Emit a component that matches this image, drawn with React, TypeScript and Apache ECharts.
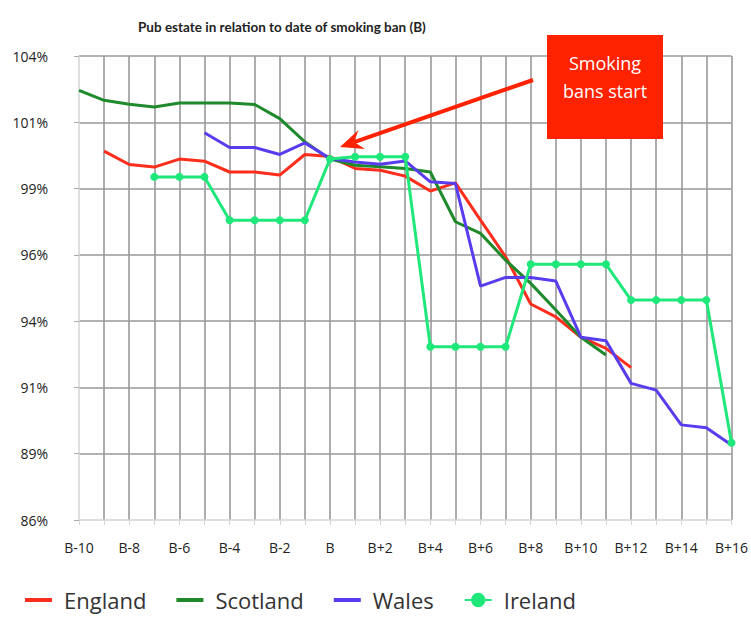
import React, { useEffect, useRef } from "react";
import * as echarts from "echarts";

const categories = [
  "B-10", "B-9", "B-8", "B-7", "B-6", "B-5", "B-4", "B-3", "B-2", "B-1", "B",
  "B+1", "B+2", "B+3", "B+4", "B+5", "B+6", "B+7", "B+8", "B+9", "B+10",
  "B+11", "B+12", "B+13", "B+14", "B+15", "B+16",
];

const england = [
  null, 100.31, 99.79, 99.69, 100.0, 99.92, 99.5, 99.5, 99.38, 100.18, 100.1,
  99.64, 99.57, 99.34, 98.76, 99.08, 97.63, 96.21, 94.38, 93.88, 93.09,
  92.66, 91.91, null, null, null, null,
];

const scotland = [
  102.67, 102.28, 102.13, 102.02, 102.18, 102.18, 102.18, 102.12, 101.57, 100.67, 100.0,
  99.76, 99.7, 99.64, 99.5, 97.57, 97.12, 96.08, 95.18, 94.15, 93.09,
  92.4, null, null, null, null, null,
];

const wales = [
  null, null, null, null, null, 101.02, 100.45, 100.45, 100.18, 100.63, 100.02,
  99.89, 99.8, 99.93, 99.12, 99.05, 95.07, 95.41, 95.41, 95.27, 93.09,
  92.95, 91.3, 91.04, 89.69, 89.58, 88.91,
];

const ireland = [
  null, null, null, 99.31, 99.31, 99.31, 97.63, 97.63, 97.63, 97.63, 100.0,
  100.09, 100.09, 100.09, 92.72, 92.72, 92.72, 92.72, 95.92, 95.92, 95.92,
  95.92, 94.53, 94.53, 94.53, 94.53, 89.0,
];

const AXIS_MIN = 86;
const AXIS_MAX = 104;
const AXIS_STEPS = 7;

const FONT = "Open Sans";
const LINE_ICON = "path://M0,0H27V4H0Z";

function shift(values: (number | null)[]) {
  return values.map((v) => (v == null ? null : +(v - AXIS_MIN).toFixed(4)));
}

export default function App() {
  const ref = useRef<HTMLDivElement>(null);

  useEffect(() => {
    if (!ref.current) return;
    const chart = echarts.init(ref.current, null, { renderer: "svg" });

    // arrow geometry (annotation)
    const tail = [533, 80];
    const tip = [340, 147];
    const dx = tip[0] - tail[0];
    const dy = tip[1] - tail[1];
    const len = Math.sqrt(dx * dx + dy * dy);
    const ux = dx / len;
    const uy = dy / len;
    const nx = -uy;
    const ny = ux;
    const headLen = 23;
    const headHalf = 10;
    const notchLen = 15;
    const base = [tip[0] - headLen * ux, tip[1] - headLen * uy];
    const wing1 = [base[0] + headHalf * nx, base[1] + headHalf * ny];
    const wing2 = [base[0] - headHalf * nx, base[1] - headHalf * ny];
    const notch = [tip[0] - notchLen * ux, tip[1] - notchLen * uy];

    const lineSeries = (name: string, data: (number | null)[], color: string, marker: boolean) => ({
      name,
      type: "line",
      data: shift(data),
      connectNulls: false,
      symbol: marker ? "circle" : "none",
      symbolSize: 8,
      showSymbol: marker,
      lineStyle: { color, width: 3 },
      itemStyle: { color },
      emphasis: { disabled: true },
    });

    chart.setOption({
      animation: false,
      backgroundColor: "#ffffff",
      textStyle: { fontFamily: FONT },
      title: {
        text: "Pub estate in relation to date of smoking ban (B)",
        left: 133,
        top: 15,
        textStyle: {
          fontFamily: "Lato",
          fontSize: 13.5,
          fontWeight: "bold",
          color: "#222",
        },
      },
      grid: { left: 79, right: 18, top: 56, bottom: 97 },
      legend: {
        left: 20,
        top: 584,
        itemWidth: 27,
        itemHeight: 18,
        itemGap: 30,
        textStyle: { fontFamily: FONT, fontSize: 22, color: "#333", padding: [0, 0, 0, 7] },
        data: [
          { name: "England", icon: LINE_ICON },
          { name: "Scotland", icon: LINE_ICON },
          { name: "Wales", icon: LINE_ICON },
          { name: "Ireland" },
        ],
      },
      xAxis: {
        type: "category",
        data: categories,
        boundaryGap: false,
        axisLine: { show: true, lineStyle: { color: "#d4d4d4", width: 1.5 } },
        axisTick: { show: true, interval: 0, length: 5, lineStyle: { color: "#d4d4d4" } },
        axisLabel: { interval: 1, margin: 20, fontSize: 14, color: "#222", fontFamily: FONT },
        splitLine: {
          show: true,
          interval: 0,
          showMinLine: false,
          lineStyle: { color: "#999", width: 1.6 },
        },
      },
      yAxis: {
        type: "value",
        min: 0,
        max: AXIS_MAX - AXIS_MIN,
        interval: (AXIS_MAX - AXIS_MIN) / AXIS_STEPS,
        axisLine: { show: true, lineStyle: { color: "#d4d4d4", width: 1.5 } },
        axisTick: { show: true, length: 5, lineStyle: { color: "#aaa" } },
        axisLabel: {
          margin: 31,
          fontSize: 14,
          color: "#222",
          fontFamily: FONT,
          formatter: (v: number) => Math.round(v + AXIS_MIN) + "%",
        },
        splitLine: {
          show: true,
          showMinLine: false,
          lineStyle: { color: "#999", width: 1.6 },
        },
      },
      series: [
        lineSeries("England", england, "#ff2d1c", false),
        lineSeries("Scotland", scotland, "#1f8a2c", false),
        lineSeries("Wales", wales, "#5a3cef", false),
        lineSeries("Ireland", ireland, "#1ee87a", true),
      ],
      graphic: [
        {
          type: "line",
          z: 100,
          shape: { x1: tail[0], y1: tail[1], x2: notch[0], y2: notch[1] },
          style: { stroke: "#ff2200", lineWidth: 4 },
        },
        {
          type: "polygon",
          z: 100,
          shape: { points: [tip, wing1, notch, wing2] },
          style: { fill: "#ff2200" },
        },
        {
          type: "rect",
          z: 100,
          shape: { x: 547, y: 35, width: 116, height: 104 },
          style: { fill: "#ff2200" },
        },
        {
          type: "text",
          z: 101,
          x: 605,
          y: 77,
          style: {
            text: "Smoking\nbans start",
            fill: "#ffffff",
            fontFamily: FONT,
            fontSize: 18,
            lineHeight: 28,
            align: "center",
            verticalAlign: "middle",
          },
        },
      ],
    });

    return () => chart.dispose();
  }, []);

  return (
    <div
      ref={ref}
      style={{ position: "fixed", left: 0, top: 0, width: 751, height: 617 }}
    />
  );
}
